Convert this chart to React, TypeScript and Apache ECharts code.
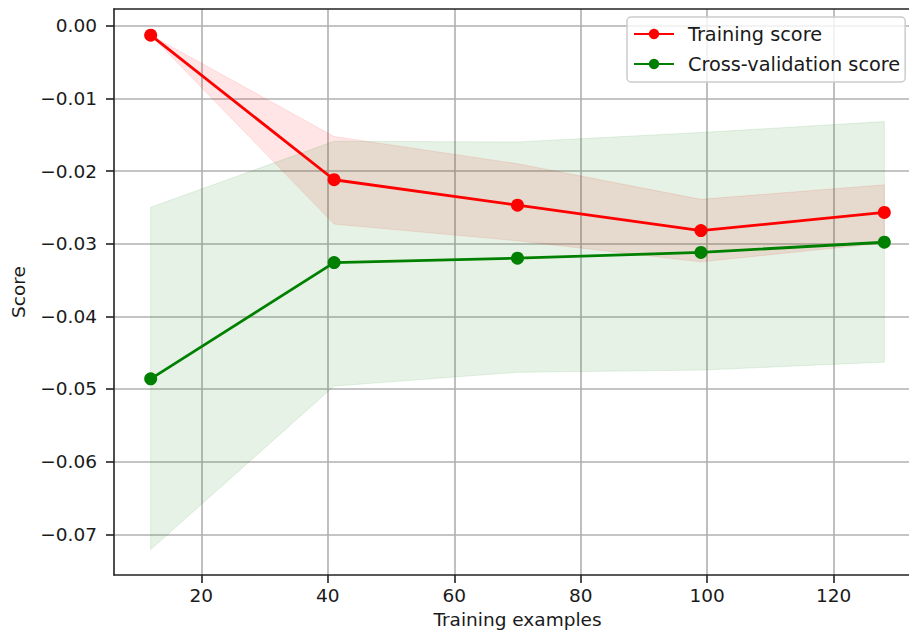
import React, { useEffect, useRef } from "react";
import * as echarts from "echarts";

const trainSizes = [12, 41, 70, 99, 128];
const trainMean = [-0.0013, -0.0212, -0.0247, -0.0282, -0.0257];
const trainUpper = [-0.0013, -0.01525, -0.019, -0.0239, -0.0219];
const trainLower = [-0.0013, -0.0273, -0.0296, -0.0325, -0.0299];
const cvMean = [-0.0486, -0.0326, -0.0320, -0.0312, -0.0298];
const cvUpper = [-0.0250, -0.0159, -0.0160, -0.0147, -0.0132];
const cvLower = [-0.0721, -0.0496, -0.0477, -0.0474, -0.0463];
const xTicks = [20, 40, 60, 80, 100, 120];
const yTicks = [-0.07, -0.06, -0.05, -0.04, -0.03, -0.02, -0.01, 0.0];

const FONT = "DejaVu Sans";
const FS = 18.5;
const LEG_FS = 19.3;
const TXT = "#1a1a1a";
const SPINE = "#222";

export default function App() {
  const ref = useRef<HTMLDivElement>(null);
  useEffect(() => {
    if (!ref.current) return;
    const chart = echarts.init(ref.current, undefined, { renderer: "svg" });
    const pts = (ys: number[]) => trainSizes.map((x, i) => [x, ys[i]]);
    const band = (name: string, up: number[], lo: number[], fill: string, edge: string, z: number) => ({
      name,
      type: "custom",
      silent: true,
      clip: true,
      z,
      data: [[trainSizes[0], up[0]]],
      renderItem: (_params: any, api: any) => {
        const upperPts = trainSizes.map((x, i) => api.coord([x, up[i]]));
        const lowerPts = trainSizes.map((x, i) => api.coord([x, lo[i]])).reverse();
        return {
          type: "polygon",
          shape: { points: upperPts.concat(lowerPts) },
          style: { fill, stroke: edge, lineWidth: 1 },
        };
      },
    });
    const axisLineStyle = { color: SPINE, width: 1.6 };
    chart.setOption({
      animation: false,
      backgroundColor: "#fff",
      textStyle: { fontFamily: FONT },
      grid: {
        left: 114,
        top: 9,
        width: 807,
        height: 566,
      },
      legend: {
        data: ["Training score", "Cross-validation score"],
        orient: "vertical",
        left: 627,
        top: 17,
        padding: [7, 5, 8, 6],
        itemGap: 10,
        itemWidth: 40,
        itemHeight: 13,
        backgroundColor: "rgba(255,255,255,0.8)",
        borderColor: "#cccccc",
        borderWidth: 1.5,
        borderRadius: 4,
        textStyle: {
          fontFamily: FONT,
          fontSize: LEG_FS,
          color: TXT,
          lineHeight: 20,
          padding: [0, 0, 0, 9],
        },
      },
      xAxis: [
        {
          type: "value",
          min: 6.2,
          max: 133.8,
          position: "bottom",
          name: "Training examples",
          nameLocation: "middle",
          nameGap: 33,
          nameTextStyle: { fontFamily: FONT, fontSize: FS, color: TXT },
          axisLine: { show: true, onZero: false, lineStyle: axisLineStyle },
          axisTick: {
            show: true,
            length: 8,
            inside: false,
            customValues: xTicks,
            lineStyle: axisLineStyle,
          },
          axisLabel: {
            customValues: xTicks,
            margin: 11,
            fontFamily: FONT,
            fontSize: FS,
            color: TXT,
          },
          splitLine: { show: true, lineStyle: { color: "#b0b0b0", width: 1.6 } },
        },
        {
          type: "value",
          min: 6.2,
          max: 133.8,
          position: "top",
          axisLine: { show: true, onZero: false, lineStyle: axisLineStyle },
          axisTick: { show: false },
          axisLabel: { show: false },
          splitLine: { show: false },
        },
      ],
      yAxis: {
        type: "value",
        min: -0.0756,
        max: 0.0023,
        name: "Score",
        nameLocation: "middle",
        nameRotate: 90,
        nameGap: 86,
        nameTextStyle: { fontFamily: FONT, fontSize: FS, color: TXT },
        axisLine: { show: true, onZero: false, lineStyle: axisLineStyle },
        axisTick: {
          show: true,
          length: 8,
          inside: false,
          customValues: yTicks,
          lineStyle: axisLineStyle,
        },
        axisLabel: {
          customValues: yTicks,
          margin: 17,
          fontFamily: FONT,
          fontSize: FS,
          color: TXT,
          formatter: (v: number) =>
            Math.abs(v) < 1e-9 ? "0.00" : (v < 0 ? "\u2212" : "") + Math.abs(v).toFixed(2),
        },
        splitLine: { show: true, lineStyle: { color: "#b0b0b0", width: 1.6 } },
      },
      series: [
        band("trainBand", trainUpper, trainLower, "rgba(255,0,0,0.1)", "rgba(255,0,0,0.1)", 1),
        band("cvBand", cvUpper, cvLower, "rgba(0,128,0,0.1)", "rgba(0,128,0,0.1)", 2),
        {
          name: "Training score",
          type: "line",
          data: pts(trainMean),
          symbol: "circle",
          symbolSize: 13,
          color: "#ff0000",
          lineStyle: { color: "#ff0000", width: 2.8 },
          itemStyle: { color: "#ff0000" },
          z: 5,
        },
        {
          name: "Cross-validation score",
          type: "line",
          data: pts(cvMean),
          symbol: "circle",
          symbolSize: 13,
          color: "#008000",
          lineStyle: { color: "#008000", width: 2.8 },
          itemStyle: { color: "#008000" },
          z: 5,
        },
      ],
    });
    return () => chart.dispose();
  }, []);
  return (
    <div
      style={{ position: "fixed", left: 0, top: 0, width: 909, height: 635, overflow: "hidden" }}
    >
      <div ref={ref} style={{ width: 960, height: 635 }} />
    </div>
  );
}
